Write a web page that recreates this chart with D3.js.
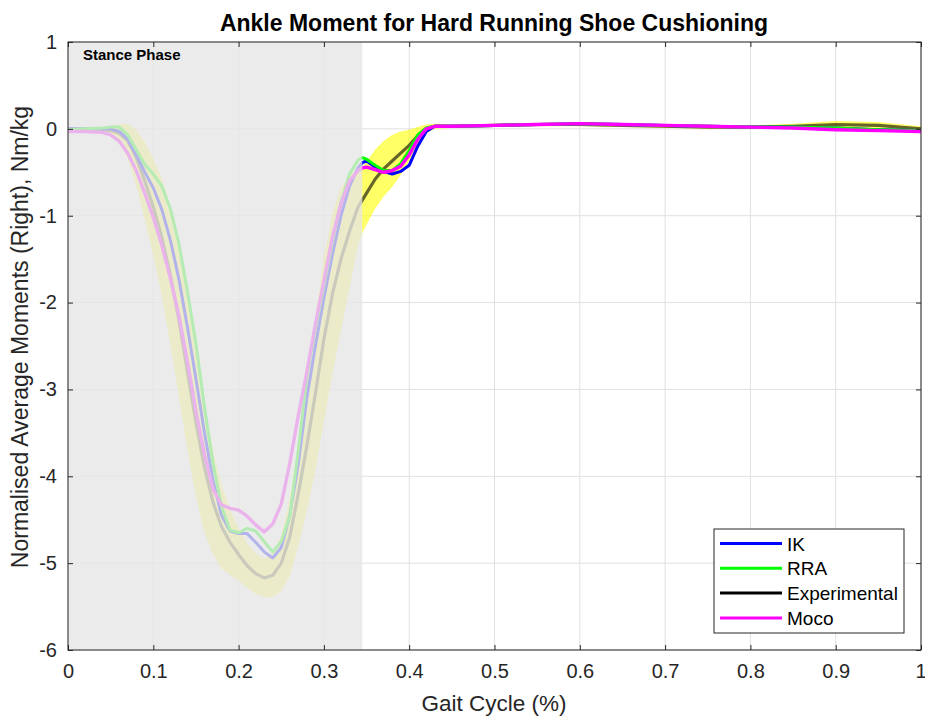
<!DOCTYPE html>
<html>
<head>
<meta charset="utf-8">
<script src="https://cdn.jsdelivr.net/npm/d3@7"></script>
<style>
  body { margin: 0; background: #fff; }
  svg { display: block; font-family: "Liberation Sans", Arial, sans-serif; }
</style>
</head>
<body>
<svg id="chart" width="925" height="717"></svg>
<script>
// gait cycle samples (fraction of cycle)
const gaitCycle = [0, 0.02, 0.04, 0.05, 0.06, 0.07, 0.08, 0.09, 0.10, 0.11, 0.12, 0.13, 0.14, 0.15, 0.16, 0.17, 0.18, 0.19, 0.20,
  0.21, 0.22, 0.23, 0.24, 0.25, 0.26, 0.27, 0.28, 0.29, 0.30, 0.31, 0.32, 0.33, 0.34, 0.345, 0.35, 0.36, 0.37, 0.38, 0.39, 0.40,
  0.41, 0.42, 0.43, 0.45, 0.50, 0.55, 0.60, 0.65, 0.70, 0.75, 0.80, 0.85, 0.90, 0.95, 1.00];

// moments, Nm/kg
const expMoment = [0.00, 0.00, -0.01, -0.02, -0.05, -0.14, -0.33, -0.60, -0.90, -1.25, -1.68, -2.20, -2.80, -3.38, -3.90, -4.30, -4.58, -4.76, -4.90,
  -5.03, -5.12, -5.17, -5.14, -5.00, -4.70, -4.20, -3.65, -3.05, -2.42, -1.90, -1.50, -1.18, -0.90, -0.82, -0.74, -0.58, -0.46, -0.37, -0.28, -0.19,
  -0.08, 0.00, 0.03, 0.03, 0.04, 0.05, 0.05, 0.04, 0.03, 0.02, 0.02, 0.03, 0.05, 0.04, 0.00];
const expSd = [0.02, 0.02, 0.03, 0.05, 0.10, 0.20, 0.32, 0.45, 0.55, 0.68, 0.80, 0.88, 0.90, 0.85, 0.75, 0.60, 0.48, 0.38, 0.30,
  0.26, 0.23, 0.22, 0.25, 0.32, 0.45, 0.60, 0.75, 0.88, 0.95, 0.92, 0.82, 0.65, 0.45, 0.38, 0.36, 0.34, 0.32, 0.30, 0.25, 0.18,
  0.10, 0.05, 0.03, 0.02, 0.02, 0.02, 0.02, 0.02, 0.02, 0.02, 0.02, 0.03, 0.04, 0.04, 0.03];
const ikMoment = [0.00, 0.00, 0.00, 0.00, -0.03, -0.12, -0.30, -0.50, -0.68, -0.93, -1.28, -1.73, -2.28, -2.88, -3.50, -4.05, -4.45, -4.63, -4.66,
  -4.66, -4.76, -4.87, -4.94, -4.82, -4.45, -3.85, -3.10, -2.50, -1.95, -1.45, -1.00, -0.66, -0.45, -0.39, -0.37, -0.44, -0.49, -0.52, -0.49, -0.42,
  -0.20, -0.03, 0.03, 0.03, 0.04, 0.05, 0.06, 0.05, 0.04, 0.03, 0.02, 0.02, 0.01, -0.01, -0.02];
const rraMoment = [-0.01, 0.00, 0.01, 0.02, 0.02, -0.07, -0.24, -0.41, -0.52, -0.66, -0.92, -1.32, -1.87, -2.47, -3.20, -3.85, -4.35, -4.62, -4.65,
  -4.60, -4.63, -4.75, -4.87, -4.75, -4.46, -3.70, -2.85, -2.30, -1.80, -1.30, -0.85, -0.52, -0.36, -0.33, -0.35, -0.42, -0.48, -0.48, -0.40, -0.25,
  -0.07, 0.01, 0.03, 0.03, 0.04, 0.05, 0.06, 0.05, 0.04, 0.03, 0.02, 0.02, 0.01, -0.01, -0.02];
const mocoMoment = [-0.03, -0.03, -0.04, -0.07, -0.14, -0.28, -0.48, -0.74, -1.02, -1.34, -1.72, -2.15, -2.68, -3.25, -3.75, -4.15, -4.33, -4.37, -4.39,
  -4.46, -4.56, -4.64, -4.55, -4.32, -3.85, -3.30, -2.80, -2.25, -1.75, -1.25, -0.86, -0.60, -0.48, -0.45, -0.44, -0.47, -0.50, -0.48, -0.43, -0.30,
  -0.12, 0.00, 0.03, 0.03, 0.04, 0.05, 0.06, 0.05, 0.04, 0.03, 0.02, 0.01, -0.01, -0.02, -0.03];

const stanceEnd = 0.345;
const xTicks = [0, 0.1, 0.2, 0.3, 0.4, 0.5, 0.6, 0.7, 0.8, 0.9, 1];
const yTicks = [1, 0, -1, -2, -3, -4, -5, -6];
const legendNames = ["IK", "RRA", "Experimental", "Moco"];
const legendColors = ["#0000ff", "#00ff00", "#000000", "#ff00ff"];

const svg = d3.select("#chart");
const pLeft = 68, pRight = 921, pTop = 42, pBottom = 650;

const x = d3.scaleLinear().domain([0, 1]).range([pLeft, pRight]);
const y = d3.scaleLinear().domain([-6, 1]).range([pBottom, pTop]);

svg.append("defs").append("clipPath").attr("id", "plotclip")
  .append("rect").attr("x", pLeft).attr("y", pTop).attr("width", pRight - pLeft).attr("height", pBottom - pTop);

// grid
const grid = svg.append("g");
grid.selectAll(".gx").data(xTicks).enter().append("line")
  .attr("x1", d => x(d)).attr("x2", d => x(d)).attr("y1", pTop).attr("y2", pBottom)
  .attr("stroke", "#e0e0e0").attr("stroke-width", 1);
grid.selectAll(".gy").data(yTicks).enter().append("line")
  .attr("x1", pLeft).attr("x2", pRight).attr("y1", d => y(d)).attr("y2", d => y(d))
  .attr("stroke", "#e0e0e0").attr("stroke-width", 1);

const plot = svg.append("g").attr("clip-path", "url(#plotclip)");

const idx = d3.range(gaitCycle.length);

// experimental band
const band = d3.area()
  .x(i => x(gaitCycle[i]))
  .y0(i => y(expMoment[i] - expSd[i]))
  .y1(i => y(expMoment[i] + expSd[i]));
plot.append("path").datum(idx).attr("d", band)
  .attr("fill", "#ffff00").attr("fill-opacity", 0.6);

function drawLine(vals, color, width, opacity) {
  const line = d3.line().x(i => x(gaitCycle[i])).y(i => y(vals[i]));
  plot.append("path").datum(idx).attr("d", line)
    .attr("fill", "none").attr("stroke", color).attr("stroke-width", width)
    .attr("stroke-opacity", opacity).attr("stroke-linejoin", "round");
}
drawLine(expMoment, "#000000", 3.2, 0.6);
drawLine(ikMoment, "#0000ff", 3, 1);
drawLine(rraMoment, "#00ff00", 3, 1);
drawLine(mocoMoment, "#ff00ff", 3.4, 1);

// stance phase shading
plot.append("rect")
  .attr("x", x(0)).attr("y", pTop).attr("width", x(stanceEnd) - x(0)).attr("height", pBottom - pTop)
  .attr("fill", "#e6e6e6").attr("fill-opacity", 0.78);

svg.append("text").attr("x", 83).attr("y", 60)
  .attr("font-size", 15).attr("font-weight", "bold").attr("fill", "#000")
  .text("Stance Phase");

// axes
const fmt = d => String(d).replace("\u2212", "-");
const axisColor = "#262626";
function styleAxis(g, noLabels) {
  g.select(".domain").remove();
  g.selectAll("line").attr("stroke", axisColor);
  g.selectAll("text").attr("fill", axisColor).attr("font-size", 20)
    .attr("font-family", "'Liberation Sans', Arial, sans-serif");
  if (noLabels) g.selectAll("text").remove();
}
svg.append("g").attr("transform", `translate(0,${pBottom})`)
  .call(d3.axisBottom(x).tickValues(xTicks).tickSize(-5).tickPadding(14).tickFormat(fmt))
  .call(g => styleAxis(g, false))
  .call(g => g.selectAll("text").filter(d => d === 1).attr("text-anchor", "end").attr("dx", "5"));
svg.append("g").attr("transform", `translate(0,${pTop})`)
  .call(d3.axisTop(x).tickValues(xTicks).tickSize(-5))
  .call(g => styleAxis(g, true));
svg.append("g").attr("transform", `translate(${pLeft},0)`)
  .call(d3.axisLeft(y).tickValues(yTicks).tickSize(-5).tickPadding(11).tickFormat(fmt))
  .call(g => styleAxis(g, false));
svg.append("g").attr("transform", `translate(${pRight},0)`)
  .call(d3.axisRight(y).tickValues(yTicks).tickSize(-5))
  .call(g => styleAxis(g, true));

svg.append("rect").attr("x", pLeft).attr("y", pTop).attr("width", pRight - pLeft).attr("height", pBottom - pTop)
  .attr("fill", "none").attr("stroke", axisColor).attr("stroke-width", 1);

// labels
svg.append("text").attr("x", 494).attr("y", 31)
  .attr("text-anchor", "middle").attr("font-size", 23).attr("font-weight", "bold").attr("fill", "#000")
  .text("Ankle Moment for Hard Running Shoe Cushioning");
svg.append("text").attr("x", 494).attr("y", 711)
  .attr("text-anchor", "middle").attr("font-size", 22.5).attr("fill", axisColor)
  .text("Gait Cycle (%)");
svg.append("text").attr("transform", "translate(28,337) rotate(-90)")
  .attr("text-anchor", "middle").attr("font-size", 23).attr("fill", axisColor)
  .text("Normalised Average Moments (Right), Nm/kg");

// legend
const lg = svg.append("g").attr("transform", "translate(714,529)");
lg.append("rect").attr("width", 190).attr("height", 104)
  .attr("fill", "#fff").attr("stroke", axisColor).attr("stroke-width", 1);
const items = lg.selectAll(".item").data(legendNames).enter().append("g")
  .attr("transform", (d, i) => `translate(0,${14.5 + i * 24.8})`);
items.append("line").attr("x1", 6).attr("x2", 68).attr("y1", 0).attr("y2", 0)
  .attr("stroke", (d, i) => legendColors[i]).attr("stroke-width", 3);
items.append("text").attr("x", 73).attr("y", 7).attr("font-size", 19).attr("fill", "#000")
  .text(d => d);
</script>
</body>
</html>
